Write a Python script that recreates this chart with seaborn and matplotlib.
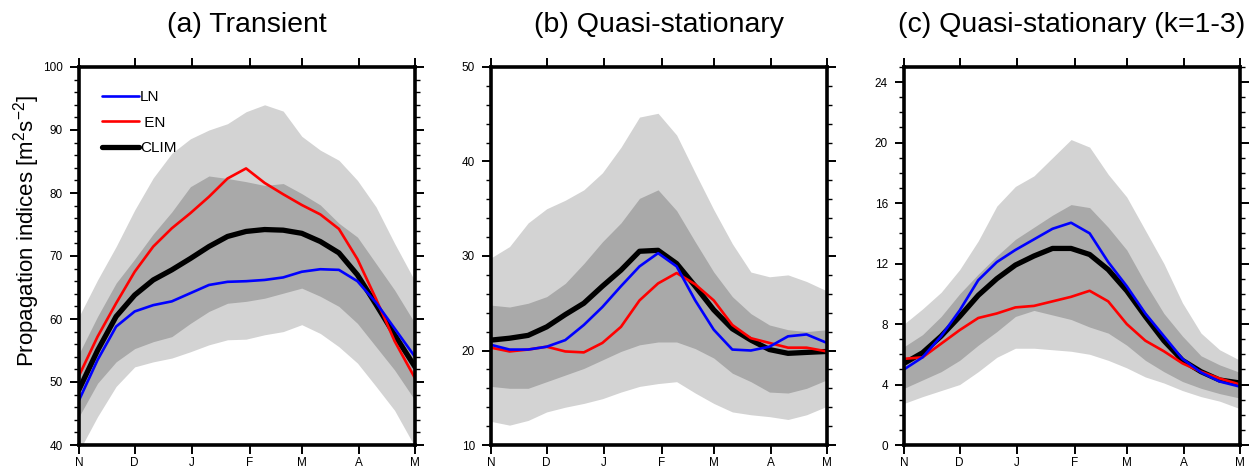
import matplotlib
matplotlib.use('Agg')
import matplotlib.pyplot as plt
from matplotlib.ticker import MultipleLocator
from matplotlib.lines import Line2D
import pandas as pd
import seaborn as sns

# days since 1 Nov
days = [0, 10, 20, 30, 40, 50, 60, 70, 80, 90, 100, 110, 120, 130, 140, 150, 160, 170, 181]
month_ticks = [0, 30, 61, 92, 120, 151, 181]
month_labels = ['N', 'D', 'J', 'F', 'M', 'A', 'M']

titles = ['(a) Transient', '(b) Quasi-stationary', '(c) Quasi-stationary (k=1-3)']

# (a) Transient
a_clim = [48.8, 55.0, 60.4, 63.8, 66.2, 67.8, 69.6, 71.5, 73.1, 73.9, 74.2, 74.1, 73.6, 72.3, 70.5, 67.0, 62.3, 57.5, 52.4]
a_en = [51.0, 57.2, 62.5, 67.5, 71.5, 74.4, 76.8, 79.4, 82.3, 83.9, 81.6, 79.8, 78.1, 76.6, 74.3, 69.5, 63.2, 56.5, 50.6]
a_ln = [47.1, 53.5, 58.8, 61.2, 62.2, 62.8, 64.1, 65.4, 65.9, 66.0, 66.2, 66.6, 67.5, 67.9, 67.8, 66.0, 62.6, 58.5, 54.0]
a_light_hi = [60.4, 66.2, 71.5, 77.3, 82.4, 86.3, 88.6, 90.0, 91.0, 92.9, 94.0, 93.0, 89.0, 86.8, 85.2, 82.0, 77.8, 72.0, 66.0]
a_light_lo = [39.0, 44.5, 49.3, 52.4, 53.2, 53.8, 54.8, 55.9, 56.7, 56.8, 57.5, 58.0, 59.1, 57.7, 55.6, 53.0, 49.3, 45.5, 39.7]
a_dark_hi = [54.5, 60.4, 65.7, 69.5, 73.5, 77.0, 81.0, 82.7, 82.3, 81.8, 81.2, 81.5, 79.9, 78.1, 75.2, 73.0, 68.8, 64.6, 59.3]
a_dark_lo = [44.5, 49.8, 53.2, 55.3, 56.4, 57.2, 59.3, 61.2, 62.5, 62.8, 63.3, 64.1, 64.9, 63.6, 62.0, 59.3, 55.6, 51.9, 47.1]

# (b) Quasi-stationary
b_clim = [21.1, 21.3, 21.6, 22.5, 23.8, 25.0, 26.8, 28.5, 30.5, 30.6, 29.2, 26.8, 24.3, 22.3, 21.1, 20.1, 19.7, 19.8, 19.9]
b_en = [20.3, 19.9, 20.1, 20.4, 19.9, 19.8, 20.8, 22.5, 25.3, 27.1, 28.2, 27.0, 25.3, 22.7, 21.3, 20.8, 20.3, 20.3, 19.9]
b_ln = [20.6, 20.1, 20.1, 20.4, 21.1, 22.7, 24.6, 26.8, 28.9, 30.3, 28.9, 25.3, 22.2, 20.1, 20.0, 20.4, 21.5, 21.7, 20.8]
b_light_hi = [29.8, 31.0, 33.5, 35.0, 35.9, 37.0, 38.8, 41.5, 44.7, 45.1, 42.8, 38.8, 34.9, 31.3, 28.3, 27.8, 28.0, 27.3, 26.3]
b_light_lo = [12.5, 12.1, 12.6, 13.5, 14.0, 14.4, 14.9, 15.6, 16.2, 16.5, 16.7, 15.5, 14.4, 13.5, 13.2, 13.0, 12.7, 13.2, 14.1]
b_dark_hi = [24.8, 24.6, 25.0, 25.7, 27.1, 29.2, 31.5, 33.5, 36.1, 37.0, 34.8, 31.5, 28.3, 25.7, 23.9, 22.7, 22.2, 22.0, 22.2]
b_dark_lo = [16.2, 16.0, 16.0, 16.7, 17.4, 18.1, 19.0, 19.9, 20.6, 20.9, 20.9, 20.2, 19.2, 17.6, 16.7, 15.6, 15.5, 16.0, 16.9]

# (c) Quasi-stationary (k=1-3)
c_clim = [5.4, 6.1, 7.2, 8.5, 9.9, 11.0, 11.9, 12.5, 13.0, 13.0, 12.6, 11.6, 10.2, 8.5, 6.9, 5.6, 4.85, 4.3, 4.1]
c_en = [5.7, 5.8, 6.7, 7.6, 8.4, 8.7, 9.1, 9.2, 9.5, 9.8, 10.2, 9.5, 8.0, 6.9, 6.2, 5.4, 4.85, 4.4, 4.0]
c_ln = [5.0, 5.8, 7.2, 8.9, 10.9, 12.1, 12.9, 13.6, 14.3, 14.7, 14.0, 12.1, 10.5, 8.7, 7.2, 5.7, 4.8, 4.2, 3.86]
c_light_hi = [8.0, 9.0, 10.1, 11.6, 13.5, 15.8, 17.1, 17.8, 19.0, 20.2, 19.7, 17.9, 16.4, 14.2, 12.0, 9.4, 7.4, 6.3, 5.6]
c_light_lo = [2.75, 3.2, 3.6, 4.0, 4.85, 5.8, 6.4, 6.4, 6.3, 6.2, 6.0, 5.6, 5.1, 4.5, 4.1, 3.6, 3.2, 2.9, 2.4]
c_dark_hi = [6.5, 7.3, 8.5, 10.0, 11.3, 12.5, 13.6, 14.4, 15.2, 15.9, 15.7, 14.4, 12.9, 10.7, 8.7, 7.2, 5.9, 5.3, 4.8]
c_dark_lo = [3.75, 4.3, 4.85, 5.6, 6.6, 7.5, 8.5, 8.9, 8.6, 8.3, 7.8, 7.4, 6.6, 5.6, 4.85, 4.2, 3.75, 3.4, 3.1]

panels = [
    (a_clim, a_en, a_ln, a_light_lo, a_light_hi, a_dark_lo, a_dark_hi, (40, 100), 10, 2),
    (b_clim, b_en, b_ln, b_light_lo, b_light_hi, b_dark_lo, b_dark_hi, (10, 50), 10, 2),
    (c_clim, c_en, c_ln, c_light_lo, c_light_hi, c_dark_lo, c_dark_hi, (0, 25), 4, 1),
]

sns.set_theme(style='ticks')
plt.rcParams['font.family'] = ['Liberation Sans', 'DejaVu Sans']
plt.rcParams.update({
    'text.color': 'black', 'axes.labelcolor': 'black',
    'xtick.color': 'black', 'ytick.color': 'black',
    'mathtext.fontset': 'custom', 'mathtext.rm': 'Liberation Sans',
    'mathtext.it': 'Liberation Sans:italic', 'mathtext.bf': 'Liberation Sans:bold',
})

fig = plt.figure(figsize=(12.56, 4.70), dpi=100)
lefts = [79 / 1256, 491 / 1256, 904 / 1256]
axes = [fig.add_axes([l, 25 / 470, 336 / 1256, 378 / 470]) for l in lefts]

for ax, title, (clim, en, ln, llo, lhi, dlo, dhi, ylim, major, minor) in zip(axes, titles, panels):
    df = pd.DataFrame({'day': days, 'CLIM': clim, 'EN': en, 'LN': ln})
    ax.fill_between(days, llo, lhi, color='#d3d3d3', lw=0, zorder=1)
    ax.fill_between(days, dlo, dhi, color='#a9a9a9', lw=0, zorder=2)
    sns.lineplot(data=df, x='day', y='CLIM', color='black', lw=3.8, ax=ax, zorder=3)
    sns.lineplot(data=df, x='day', y='EN', color='#ff0000', lw=1.9, ax=ax, zorder=4)
    sns.lineplot(data=df, x='day', y='LN', color='#0000ff', lw=1.9, ax=ax, zorder=5)

    ax.set_xlim(0, 181)
    ax.set_ylim(*ylim)
    ax.set_xticks(month_ticks)
    ax.set_xticklabels(month_labels)
    ax.yaxis.set_major_locator(MultipleLocator(major))
    ax.yaxis.set_minor_locator(MultipleLocator(minor))
    ax.tick_params(which='major', direction='out', length=6.5, width=1.4,
                   top=True, right=True, labelsize=8.5, pad=5)
    ax.tick_params(axis='x', pad=2)
    ax.tick_params(axis='y', which='minor', direction='out', length=3.5, width=1.0,
                   left=True, right=True)
    for s in ax.spines.values():
        s.set_linewidth(2.6)
        s.set_color('black')
        s.set_zorder(10)
    ax.set_xlabel('')
    ax.set_ylabel('')
    ax.set_title(title, fontsize=20.5, pad=25)

axes[0].set_ylabel(r'Propagation indices [m$^\mathregular{2}$s$^\mathregular{-2}$]', fontsize=16)
axes[0].yaxis.set_label_coords(-0.11, 0.566)

handles = [Line2D([], [], color='#0000ff', lw=1.9),
           Line2D([], [], color='#ff0000', lw=1.9),
           Line2D([], [], color='black', lw=3.8)]
axes[0].legend(handles, ['LN', ' EN', 'CLIM'], loc='upper left', bbox_to_anchor=(0.05, 0.955),
               frameon=False, fontsize=11, handlelength=2.4, handletextpad=0.1,
               labelspacing=0.75, borderaxespad=0)

fig.savefig('out.png', dpi=100)
